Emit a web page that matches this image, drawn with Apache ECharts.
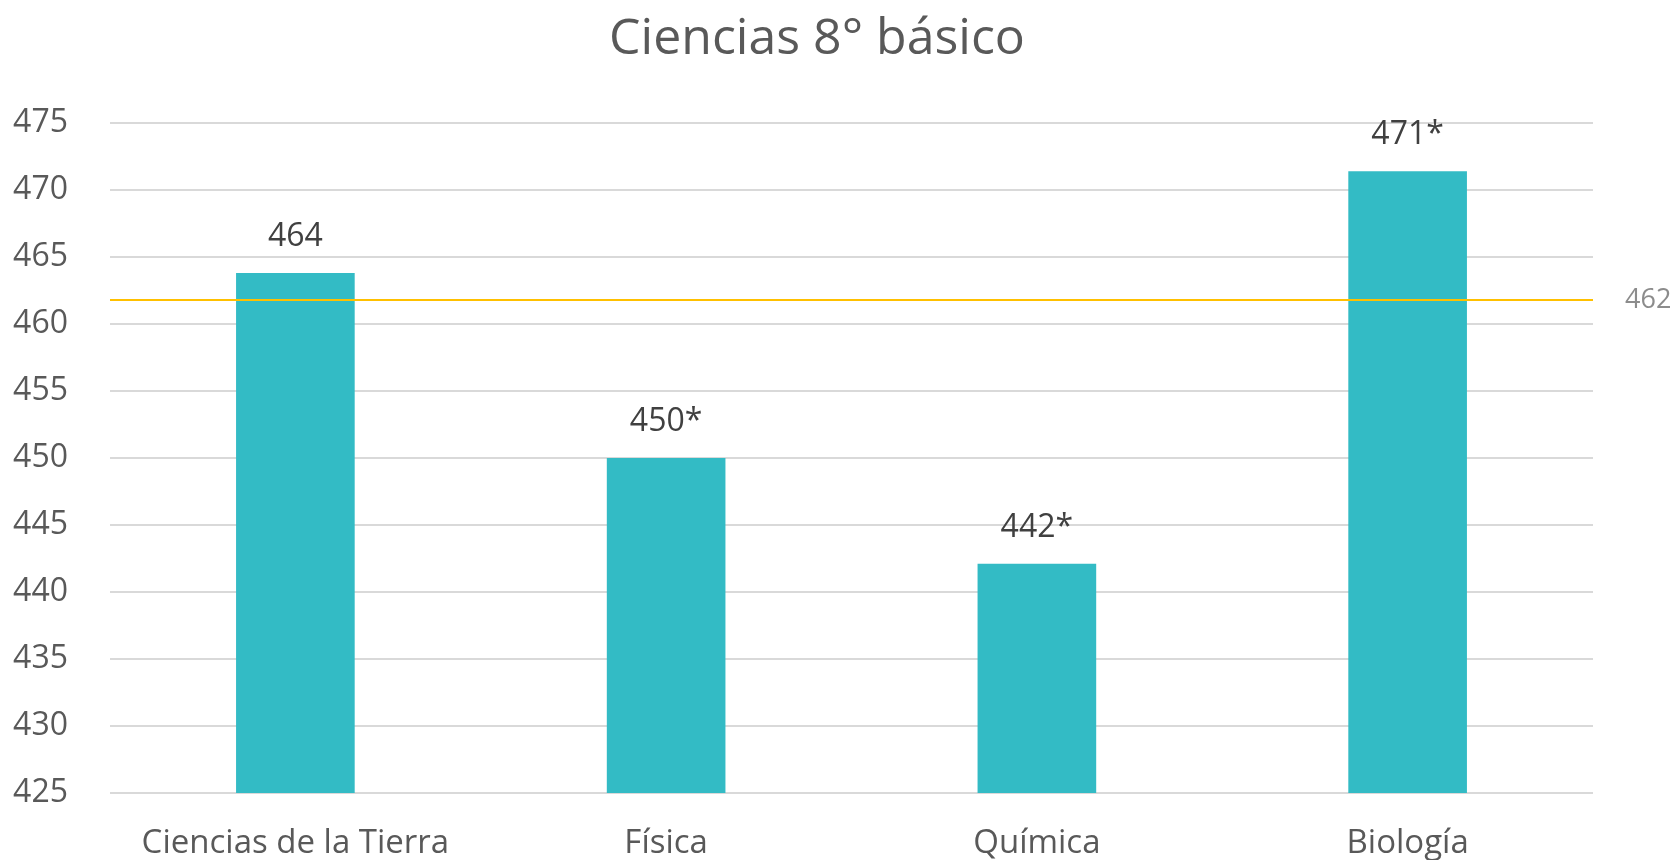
<!DOCTYPE html>
<html>
<head>
<meta charset="utf-8">
<script src="https://cdn.jsdelivr.net/npm/echarts@6/dist/echarts.min.js"></script>
<style>
  html, body { margin: 0; padding: 0; background: #ffffff; }
  #chart { width: 1673px; height: 860px; }
</style>
</head>
<body>
<div id="chart"></div>
<script>
const titleText = 'Ciencias 8° básico';
const categories = ['Ciencias de la Tierra', 'Física', 'Química', 'Biología'];
const scores = [463.8, 450.0, 442.1, 471.4];
const scoreLabels = ['464', '450*', '442*', '471*'];
const nationalAverage = 461.8;
const nationalAverageLabel = '462';
const yMin = 425, yMax = 475, yStep = 5;

const FONT = "'Open Sans', 'Noto Sans', sans-serif";
const chart = echarts.init(document.getElementById('chart'), null, { renderer: 'canvas' });

chart.setOption({
  animation: false,
  backgroundColor: '#ffffff',
  title: {
    text: titleText,
    left: 812,
    textAlign: 'center',
    top: 10,
    textStyle: { fontFamily: FONT, fontSize: 50, fontWeight: 'normal', color: '#595959' }
  },
  grid: { left: 110, right: 80, top: 123, bottom: 63, containLabel: false },
  xAxis: {
    type: 'category',
    data: categories,
    axisLine: { show: false },
    axisTick: { show: false },
    axisLabel: { interval: 0, fontFamily: FONT, fontSize: 33, color: '#595959', margin: 34 }
  },
  yAxis: {
    type: 'value',
    min: yMin,
    max: yMax,
    interval: yStep,
    axisLine: { show: false },
    axisTick: { show: false },
    splitLine: { lineStyle: { color: '#d9d9d9', width: 2 } },
    axisLabel: { fontFamily: FONT, fontSize: 32, color: '#595959', margin: 42 }
  },
  series: [{
    type: 'bar',
    data: scores,
    barWidth: '32%',
    itemStyle: { color: '#33bbc5' },
    label: {
      show: true,
      position: 'top',
      distance: 20,
      fontFamily: FONT,
      fontSize: 32,
      color: '#404040',
      formatter: p => scoreLabels[p.dataIndex]
    },
    markLine: {
      silent: true,
      symbol: ['none', 'none'],
      lineStyle: { color: '#ffc000', width: 2, type: 'solid' },
      label: {
        show: true,
        position: 'end',
        distance: 32,
        fontFamily: FONT,
        fontSize: 27,
        color: '#8c8c8c',
        formatter: () => nationalAverageLabel
      },
      data: [{ yAxis: nationalAverage }]
    }
  }]
});
</script>
</body>
</html>
